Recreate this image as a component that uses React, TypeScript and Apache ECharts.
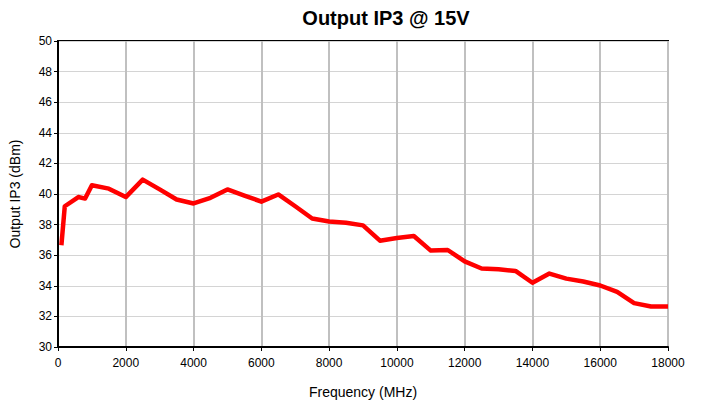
import React, { useEffect, useRef } from "react";
import * as echarts from "echarts";

const freqMHz = [100, 200, 600, 800, 1000, 1500, 2000, 2500, 3000, 3500, 4000, 4500, 5000, 5500, 6000, 6500, 7000, 7500, 8000, 8500, 9000, 9500, 10000, 10500, 11000, 11500, 12000, 12500, 13000, 13500, 14000, 14500, 15000, 15500, 16000, 16500, 17000, 17500, 18000];
const ip3dBm = [36.65, 39.2, 39.8, 39.7, 40.57, 40.35, 39.8, 40.94, 40.3, 39.64, 39.38, 39.75, 40.3, 39.9, 39.5, 39.97, 39.2, 38.4, 38.2, 38.12, 37.95, 36.95, 37.12, 37.25, 36.3, 36.34, 35.6, 35.13, 35.08, 34.97, 34.2, 34.8, 34.47, 34.28, 34.02, 33.6, 32.87, 32.65, 32.65];

const titleText = "Output IP3 @ 15V";
const xName = "Frequency (MHz)";
const yName = "Output IP3 (dBm)";

export default function App() {
  const ref = useRef<HTMLDivElement>(null);
  useEffect(() => {
    if (!ref.current) return;
    const chart = echarts.init(ref.current, undefined, { renderer: "svg" });
    const font = "'Liberation Sans', Arial, sans-serif";
    chart.setOption({
      animation: false,
      backgroundColor: "#fff",
      title: {
        text: titleText,
        left: 381,
        top: 3,
        textAlign: "center",
        textStyle: { fontFamily: font, fontWeight: "bold", fontSize: 20, color: "#000" },
      },
      grid: {
        left: 58,
        right: 34,
        top: 41,
        bottom: 55,
        show: true,
        borderColor: "#000",
        borderWidth: 2,
        backgroundColor: "transparent",
      },
      xAxis: {
        type: "value",
        min: 0,
        max: 18000,
        interval: 2000,
        name: xName,
        nameLocation: "middle",
        nameGap: 38,
        nameTextStyle: { fontFamily: font, fontSize: 14, color: "#000" },
        axisLine: { show: true, lineStyle: { color: "#000", width: 2 } },
        axisTick: { show: true, length: 4, lineStyle: { color: "#000" } },
        axisLabel: { fontFamily: font, fontSize: 12, color: "#000", margin: 10, formatter: (v: number) => String(v) },
        splitLine: { show: true, lineStyle: { color: "#c0c0c0", width: 2 } },
      },
      yAxis: {
        type: "value",
        min: 30,
        max: 50,
        interval: 2,
        name: yName,
        nameLocation: "middle",
        nameGap: 36,
        nameTextStyle: { fontFamily: font, fontSize: 14, color: "#000" },
        axisLine: { show: true, lineStyle: { color: "#000", width: 2 } },
        axisTick: { show: true, length: 4, lineStyle: { color: "#000" } },
        axisLabel: { fontFamily: font, fontSize: 12, color: "#000", margin: 6 },
        splitLine: { show: true, lineStyle: { color: "#d4d4d4", width: 1 } },
      },
      series: [
        {
          type: "line",
          data: freqMHz.map((f, i) => [f, ip3dBm[i]]),
          showSymbol: false,
          lineStyle: { color: "#ff0000", width: 4.5, join: "round" },
          itemStyle: { color: "#ff0000" },
        },
      ],
    });
    return () => chart.dispose();
  }, []);
  return <div ref={ref} style={{ width: 702, height: 404, position: "absolute", left: 0, top: 0 }} />;
}
